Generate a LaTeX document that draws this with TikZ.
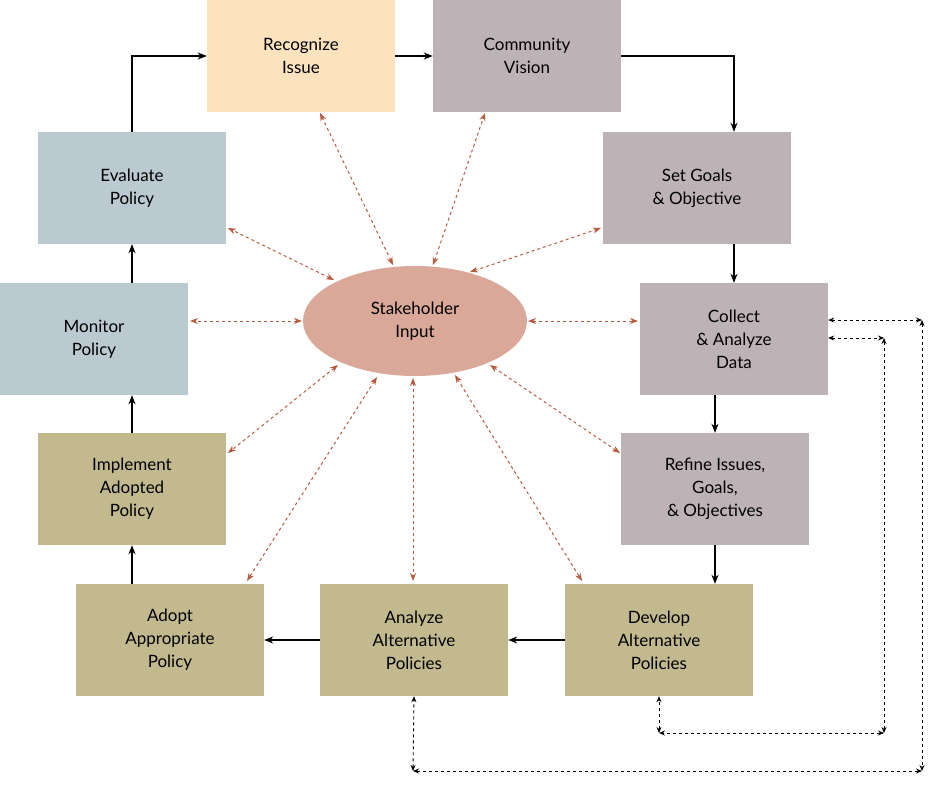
\documentclass[tikz,border=0pt]{standalone}
\usepackage{fontspec}
\setmainfont{Lato}
\usetikzlibrary{arrows.meta,shapes.geometric}
\definecolor{peach}{HTML}{FDE2BE}
\definecolor{mauve}{HTML}{BDB3B6}
\definecolor{olive}{HTML}{C2BA8E}
\definecolor{bluegray}{HTML}{BBC9D0}
\definecolor{salmon}{HTML}{D9A898}
\definecolor{rust}{HTML}{B55A3C}
\tikzset{
 box/.style={minimum width=188pt,minimum height=112pt,inner sep=0pt,align=center,font=\fontsize{17}{23}\selectfont},
 flow/.style={-{Stealth[length=9pt,width=7pt]},line width=1.3pt},
 sarr/.style={{Stealth[length=8pt,width=6pt]}-{Stealth[length=8pt,width=6pt]},rust,dashed,line width=1pt},
 karr/.style={{Stealth[length=6pt,width=5pt]}-{Stealth[length=6pt,width=5pt]},dashed,line width=0.9pt}
}
\begin{document}
\begin{tikzpicture}[x=1pt,y=-1pt]
\useasboundingbox (0,0) rectangle (935,785);
\node[box,fill=peach] (rec) at (301,56) {Recognize\\Issue};
\node[box,fill=mauve] (com) at (527,56) {Community\\Vision};
\node[box,fill=mauve] (set) at (697,188) {Set Goals\\\& Objective};
\node[box,fill=mauve] (col) at (734,339) {Collect\\\& Analyze\\Data};
\node[box,fill=mauve] (ref) at (715,489) {Refine Issues,\\Goals,\\\& Objectives};
\node[box,fill=olive] (dev) at (659,640) {Develop\\Alternative\\Policies};
\node[box,fill=olive] (ana) at (414,640) {Analyze\\Alternative\\Policies};
\node[box,fill=olive] (ado) at (170,640) {Adopt\\Appropriate\\Policy};
\node[box,fill=olive] (imp) at (132,489) {Implement\\Adopted\\Policy};
\node[box,fill=bluegray] (mon) at (94,339) {Monitor\\Policy};
\node[box,fill=bluegray] (eva) at (132,188) {Evaluate\\Policy};
\node[ellipse,fill=salmon,minimum width=224pt,minimum height=110pt,inner sep=0pt,align=center,font=\fontsize{17}{23}\selectfont] (st) at (415,321) {Stakeholder\\Input};
% black flow
\draw[flow] (eva.north) |- (rec.west);
\draw[flow] (rec.east) -- (com.west);
\draw[flow] (com.east) -| (set.north -| col.north);
\draw[flow] (set.south -| col.north) -- (col.north);
\draw[flow] (col.south -| 715,0) -- (ref.north -| 715,0);
\draw[flow] (ref.south -| 715,0) -- (dev.north -| 715,0);
\draw[flow] (dev.west) -- (ana.east);
\draw[flow] (ana.west) -- (ado.east);
\draw[flow] (ado.north -| 132,0) -- (imp.south);
\draw[flow] (imp.north) -- (mon.south -| 132,0);
\draw[flow] (mon.north -| 132,0) -- (eva.south);
% stakeholder arrows
\coordinate (s1) at (393,265); \coordinate (b1) at (320,113);
\coordinate (s2) at (433,265); \coordinate (b2) at (485,113);
\coordinate (s3) at (470,272); \coordinate (b3) at (601,228);
\coordinate (s4) at (528,321); \coordinate (b4) at (638,321);
\coordinate (s5) at (490,365); \coordinate (b5) at (620,453);
\coordinate (s6) at (455,375); \coordinate (b6) at (582,581);
\coordinate (s7) at (413,378); \coordinate (b7) at (413,581);
\coordinate (s8) at (377,377); \coordinate (b8) at (247,581);
\coordinate (s9) at (338,365); \coordinate (b9) at (228,453);
\coordinate (s10) at (302,321); \coordinate (b10) at (190,321);
\coordinate (s11) at (334,280); \coordinate (b11) at (228,228);
\foreach \i in {1,...,11} \draw[sarr] (s\i) -- (b\i);
% black dashed loops
\coordinate (a1) at (922,320); \coordinate (a2) at (922,771); \coordinate (a3) at (413,771);
\coordinate (c1) at (884,338); \coordinate (c2) at (884,733); \coordinate (c3) at (659,733);
\draw[karr] (col.east |- a1) -- (a1);
\draw[karr] (a1) -- (a2);
\draw[karr] (a2) -- (a3);
\draw[karr] (a3) -- (ana.south);
\draw[karr] (col.east |- c1) -- (c1);
\draw[karr] (c1) -- (c2);
\draw[karr] (c2) -- (c3);
\draw[karr] (c3) -- (dev.south);
\end{tikzpicture}
\end{document}
